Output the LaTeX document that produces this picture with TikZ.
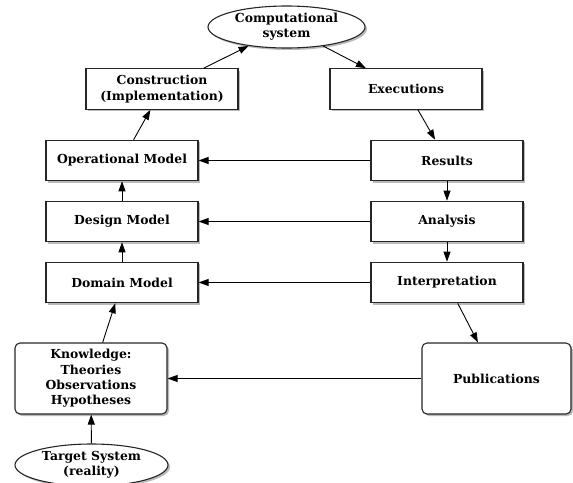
\documentclass[tikz,border=0pt]{standalone}
\usepackage{fontspec}
\setmainfont{DejaVu Serif}
\usetikzlibrary{arrows.meta,shadows,shapes.geometric}
\begin{document}
\begin{tikzpicture}[x=1pt,y=-1pt,
  every node/.style={font=\fontsize{12.4}{15.3}\selectfont\bfseries, align=center, inner sep=0pt},
  shade/.style={drop shadow={shadow xshift=2pt, shadow yshift=-2pt, fill=black!45, opacity=.6}},
  box/.style={draw=black!85, line width=1.1pt, fill=white, shade, minimum width=152pt, minimum height=40.5pt},
  rbox/.style={box, rounded corners=5pt, minimum height=71pt},
  oval/.style={ellipse, draw=black!85, line width=1.1pt, fill=white, shade},
  link/.style={-{Triangle[length=10pt,width=7pt]}, line width=0.9pt}]
\useasboundingbox (0,0) rectangle (573,482);

% left column: models
\node[box] (constr) at (162,89) {Construction\\(Implementation)};
\node[box] (oper) at (122,160.5) {Operational Model};
\node[box] (design) at (122,221.5) {Design Model};
\node[box] (domain) at (122,282.5) {Domain Model};
\node[rbox] (know) at (91,378.5) {Knowledge:\\Theories\\Observations\\Hypotheses};
\node[oval, minimum width=153pt, minimum height=42pt] (target) at (91.5,465) {Target System\\(reality)};

% top
\node[oval, minimum width=157pt, minimum height=42pt] (comp) at (286.5,27) {Computational\\system};

% right column: runs and outcomes
\node[box] (exec) at (406,89) {Executions};
\node[box] (res) at (447,160.5) {Results};
\node[box] (ana) at (447,221.5) {Analysis};
\node[box] (interp) at (447,282.5) {Interpretation};
\node[rbox, minimum width=149pt] (pub) at (496.5,378.5) {Publications};

% flow up the left side
\draw[link] (target) -- (know);
\draw[link] (know) -- (domain);
\draw[link] (domain) -- (design);
\draw[link] (design) -- (oper);
\draw[link] (oper) -- (constr);
\draw[link] (constr) -- (comp);

% flow down the right side
\draw[link] (comp) -- (exec);
\draw[link] (exec) -- (res);
\draw[link] (res) -- (ana);
\draw[link] (ana) -- (interp);
\draw[link] (interp) -- (pub);

% feedback to the left
\draw[link] (res.west) -- (oper.east);
\draw[link] (ana.west) -- (design.east);
\draw[link] (interp.west) -- (domain.east);
\draw[link] (pub.west) -- (know.east);
\end{tikzpicture}
\end{document}
